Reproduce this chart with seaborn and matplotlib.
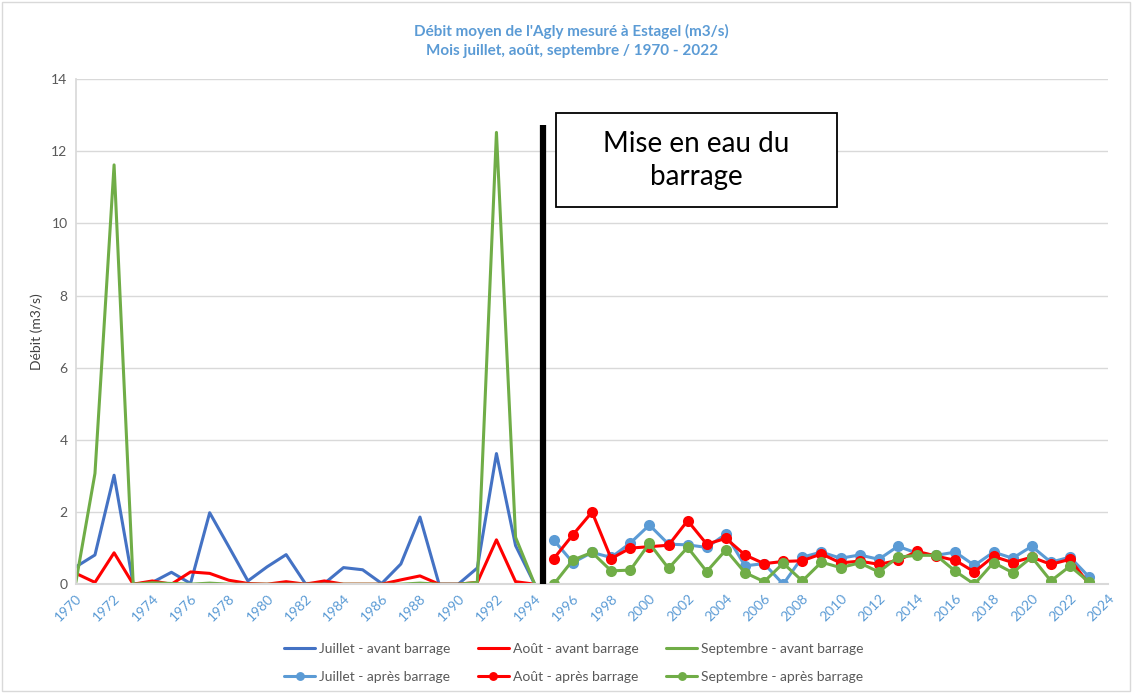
import numpy as np
import pandas as pd
import matplotlib
matplotlib.use("Agg")
import matplotlib.pyplot as plt
from matplotlib.patches import Rectangle
import seaborn as sns

# Monthly mean discharge of the Agly at Estagel (m3/s)
years_before = list(range(1970, 1995))
juillet_avant = [0.48, 0.81, 3.02, 0.0, 0.05, 0.33, 0.02, 1.98, 1.04, 0.09, 0.48, 0.82,
                 0.02, 0.02, 0.46, 0.40, 0.02, 0.56, 1.86, 0.0, 0.0, 0.45, 3.62, 1.07, 0.0]
aout_avant = [0.30, 0.05, 0.87, 0.0, 0.09, 0.0, 0.34, 0.30, 0.11, 0.02, 0.0, 0.07,
              0.0, 0.09, 0.0, 0.0, 0.0, 0.12, 0.23, 0.0, 0.0, 0.05, 1.23, 0.07, 0.0]
septembre_avant = [0.05, 3.07, 11.62, 0.0, 0.04, 0.02, 0.0, 0.03, 0.0, 0.0, 0.0, 0.0,
                   0.0, 0.0, 0.0, 0.0, 0.0, 0.0, 0.03, 0.0, 0.0, 0.05, 12.52, 1.30, 0.0]

years_after = list(range(1995, 2024))
juillet_apres = [1.22, 0.60, 0.88, 0.74, 1.14, 1.64, 1.11, 1.09, 1.02, 1.39, 0.51, 0.57,
                 0.0, 0.75, 0.89, 0.72, 0.81, 0.69, 1.05, 0.86, 0.80, 0.89, 0.52, 0.89,
                 0.72, 1.05, 0.61, 0.75, 0.20]
aout_apres = [0.71, 1.37, 2.00, 0.71, 1.00, 1.04, 1.08, 1.76, 1.11, 1.27, 0.81, 0.57,
              0.63, 0.65, 0.84, 0.59, 0.64, 0.55, 0.66, 0.91, 0.78, 0.66, 0.34, 0.77,
              0.60, 0.75, 0.55, 0.69, 0.0]
septembre_apres = [0.0, 0.67, 0.88, 0.37, 0.39, 1.13, 0.44, 1.02, 0.35, 0.95, 0.32, 0.07,
                   0.58, 0.09, 0.61, 0.46, 0.59, 0.34, 0.75, 0.80, 0.80, 0.36, 0.0, 0.60,
                   0.32, 0.75, 0.09, 0.50, 0.06]

dam_year = 1994.45
x_ticks = list(range(1970, 2025, 2))
y_ticks = list(range(0, 15, 2))

sns.set_theme(style="white")
plt.rcParams["font.family"] = ["Lato", "DejaVu Sans"]

fig = plt.figure(figsize=(11.32, 6.93), dpi=100)
ax = fig.add_axes([0.067, 0.157, 0.912, 0.729])

series = [
    ("Juillet - avant barrage", years_before, juillet_avant, "#4472C4", None),
    ("Juillet - après barrage", years_after, juillet_apres, "#5B9BD5", "o"),
    ("Août - avant barrage", years_before, aout_avant, "#FF0000", None),
    ("Août - après barrage", years_after, aout_apres, "#FF0000", "o"),
    ("Septembre - avant barrage", years_before, septembre_avant, "#70AD47", None),
    ("Septembre - après barrage", years_after, septembre_apres, "#70AD47", "o"),
]

for name, xs, ys, color, marker in series:
    df = pd.DataFrame({"annee": xs, "debit": ys})
    sns.lineplot(data=df, x="annee", y="debit", ax=ax, color=color, linewidth=2.2,
                 marker=marker, markersize=8, markeredgewidth=0, label=name)

ax.set_xlim(1970, 2024)
ax.set_ylim(0, 14)
ax.set_xticks(x_ticks)
ax.set_xticklabels([str(t) for t in x_ticks], rotation=45, ha="right",
                   rotation_mode="anchor", color="#5B9BD5", fontsize=10)
ax.set_yticks(y_ticks)
ax.set_yticklabels([str(t) for t in y_ticks], color="#595959", fontsize=10)
ax.tick_params(axis="both", length=0, pad=6)
ax.grid(axis="y", color="#D9D9D9", linewidth=1)
ax.set_axisbelow(True)
for side in ["top", "right"]:
    ax.spines[side].set_visible(False)
ax.spines["left"].set_color("#D9D9D9")
ax.spines["bottom"].set_color("#D9D9D9")
ax.spines["bottom"].set_linewidth(1.5)
ax.set_xlabel("")
ax.set_ylabel("Débit (m3/s)", color="#404040", fontsize=10, labelpad=6)

# dam commissioning marker and its caption box
ax.plot([dam_year, dam_year], [0, 12.73], color="black", linewidth=4.5,
        solid_capstyle="butt", zorder=5)
ax.add_patch(Rectangle((1995.1, 10.45), 14.7, 2.6, facecolor="white",
                       edgecolor="black", linewidth=1.3, zorder=6, clip_on=False))
ax.text(2002.45, 11.75, "Mise en eau du\nbarrage", ha="center", va="center",
        fontsize=20, color="black", linespacing=1.35, zorder=7)

ax.legend_.remove()
handles, labels = ax.get_legend_handles_labels()
fig.legend(handles, labels, ncol=3, loc="lower center", bbox_to_anchor=(0.507, -0.004),
           frameon=False, fontsize=10, labelcolor="#595959", handlelength=2.2,
           handletextpad=0.3, columnspacing=2.0, markerscale=0.8, labelspacing=1.2)

fig.text(0.505, 0.955, "Débit moyen de l'Agly mesuré à Estagel (m3/s)", ha="center",
         va="center", fontsize=11, fontweight="bold", color="#5B9BD5")
fig.text(0.505, 0.927, "Mois juillet, août, septembre / 1970 - 2022", ha="center",
         va="center", fontsize=11, fontweight="bold", color="#5B9BD5")

fig.add_artist(Rectangle((0.002, 0.003), 0.996, 0.994, transform=fig.transFigure,
                         fill=False, edgecolor="#D9D9D9", linewidth=1))

fig.savefig("out.png", dpi=100)
